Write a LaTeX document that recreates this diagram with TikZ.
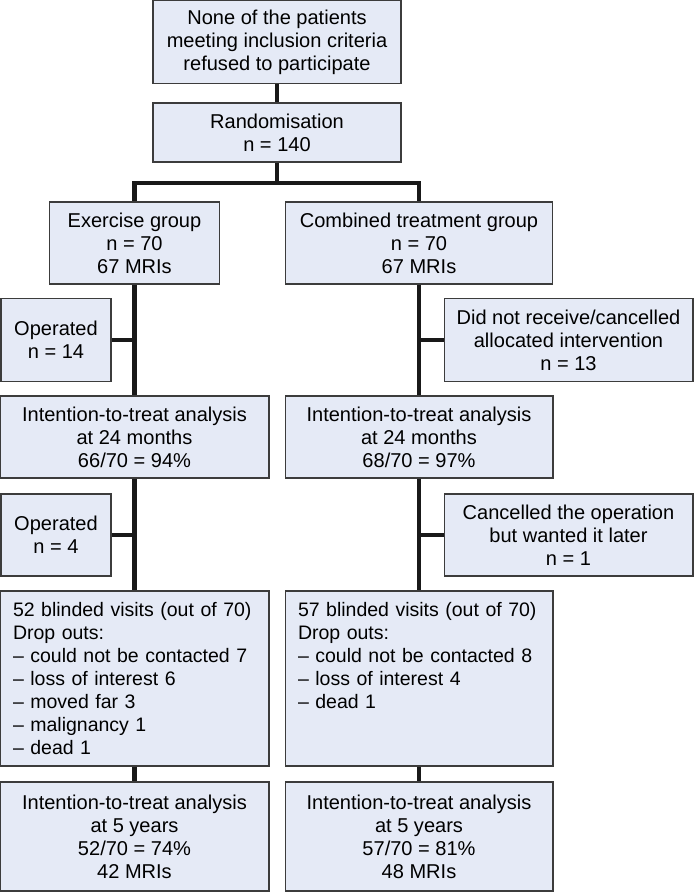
\documentclass[tikz,border=0pt]{standalone}
\usepackage{fontspec}
\setmainfont{Liberation Sans}
\usetikzlibrary{calc}

\definecolor{boxfill}{RGB}{229,234,246}
\definecolor{boxline}{RGB}{60,60,60}

\begin{document}
\begin{tikzpicture}[x=0.02cm, y=-0.02cm,
    box/.style={draw=boxline, fill=boxfill, line width=0.6pt, align=center, inner sep=0pt,
        font=\fontsize{11.4}{13.1}\selectfont},
    listbox/.style={box, align=left, inner xsep=0.26cm, text width=4.86cm, minimum height=3.5cm,
        font=\fontsize{11.1}{13.1}\selectfont},
    conn/.style={line width=2.3pt, draw=black!90}]

\useasboundingbox (0,0) rectangle (694,892);

% ---- Inici i aleatoritzacio ----
\node[box, minimum width=4.96cm, minimum height=1.66cm] (refused) at (277,42)
    {None of the patients\\meeting inclusion criteria\\refused to participate};
\node[box, minimum width=4.96cm, minimum height=1.18cm] (random) at (277,132.5)
    {Randomisation\\n = 140};

% ---- Grups ----
\node[box, minimum width=3.4cm, minimum height=1.64cm] (exgroup) at (134.5,243)
    {Exercise group\\n = 70\\67 MRIs};
\node[box, minimum width=5.34cm, minimum height=1.64cm] (combgroup) at (419,243)
    {Combined treatment group\\n = 70\\67 MRIs};

% ---- Sortides laterals (1) ----
\node[box, minimum width=2.2cm, minimum height=1.66cm] (oper1) at (56,340)
    {Operated\\n = 14};
\node[box, minimum width=4.98cm, minimum height=1.66cm] (notrec) at (568.5,340)
    {Did not receive/cancelled\\allocated intervention\\n = 13};

% ---- Analisi 24 mesos ----
\node[box, minimum width=5.38cm, minimum height=1.64cm] (ittexa) at (134.5,437)
    {Intention-to-treat analysis\\at 24 months\\66/70 = 94\%};
\node[box, minimum width=5.36cm, minimum height=1.64cm] (ittcomba) at (419,437)
    {Intention-to-treat analysis\\at 24 months\\68/70 = 97\%};

% ---- Sortides laterals (2) ----
\node[box, minimum width=2.2cm, minimum height=1.64cm] (oper2) at (56,535)
    {Operated\\n = 4};
\node[box, minimum width=4.98cm, minimum height=1.64cm] (cancel) at (568.5,535)
    {Cancelled the operation\\but wanted it later\\n = 1};

% ---- Visites cegues ----
\node[listbox] (blindex) at (134.5,678.5)
    {52 blinded visits (out of 70)\\Drop outs:\\– could not be contacted 7\\– loss of interest 6\\– moved far 3\\– malignancy 1\\– dead 1};
\node[listbox, text width=4.84cm] (blindcomb) at (419,678.5)
    {57 blinded visits (out of 70)\\Drop outs:\\– could not be contacted 8\\– loss of interest 4\\– dead 1\\\mbox{}\\\mbox{}};

% ---- Analisi 5 anys ----
\node[box, minimum width=5.38cm, minimum height=2.18cm] (ittexb) at (134.5,836.5)
    {Intention-to-treat analysis\\at 5 years\\52/70 = 74\%\\42 MRIs};
\node[box, minimum width=5.36cm, minimum height=2.18cm] (ittcombb) at (419,836.5)
    {Intention-to-treat analysis\\at 5 years\\57/70 = 81\%\\48 MRIs};

% ---- Connexions ----
\draw[conn] (refused) -- (random);
\draw[conn] (random.south) -- ++(0,20) coordinate (split);
\draw[conn] (exgroup.north) |- (split) -| (combgroup.north);
\draw[conn] (exgroup) -- (ittexa);
\draw[conn] (combgroup) -- (ittcomba);
\draw[conn] (oper1.east) -- (oper1.east -| exgroup.south);
\draw[conn] (notrec.west) -- (notrec.west -| combgroup.south);
\draw[conn] (ittexa) -- (blindex);
\draw[conn] (ittcomba) -- (blindcomb);
\draw[conn] (oper2.east) -- (oper2.east -| ittexa.south);
\draw[conn] (cancel.west) -- (cancel.west -| ittcomba.south);
\draw[conn] (blindex) -- (ittexb);
\draw[conn] (blindcomb) -- (ittcombb);

\end{tikzpicture}
\end{document}
